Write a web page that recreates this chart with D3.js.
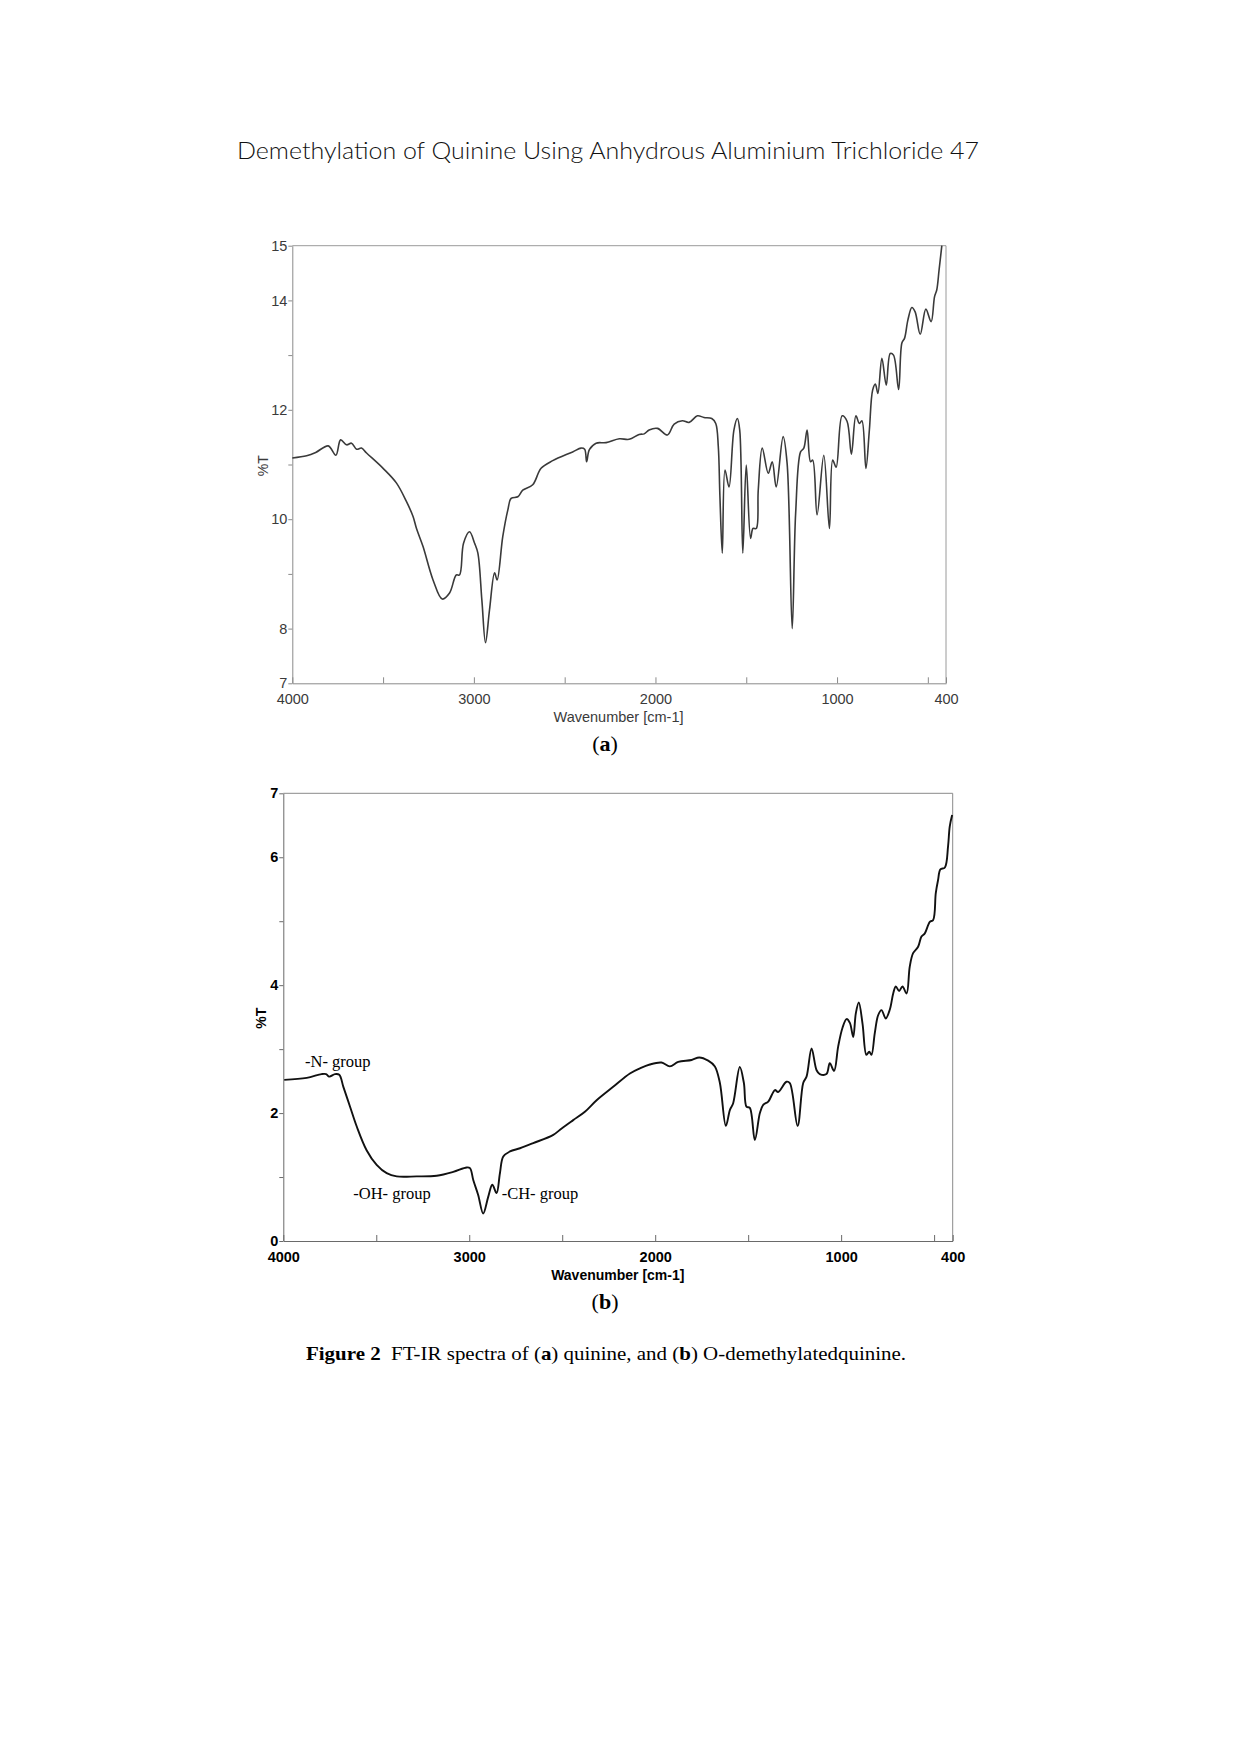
<!DOCTYPE html>
<html>
<head>
<meta charset="utf-8">
<script src="https://cdn.jsdelivr.net/npm/d3@7"></script>
<style>
  html, body { margin: 0; padding: 0; background: #fff; }
  svg { display: block; }
  text { white-space: pre; }
</style>
</head>
<body>
<svg id="page" width="1240" height="1754"></svg>
<script>
// ---------------- DATA ----------------
const headerText = "Demethylation of Quinine Using Anhydrous Aluminium Trichloride 47";

// Spectrum (a): quinine
const wavenumberA = [4000,3921,3871,3802,3760,3734,3701,3674,3646,3619,3591,3500,3426,3371,3335,3316,3280,3225,3174,3134,3097,3079,3057,3024,2996,2978,2956,2936,2914,2886,2872,2841,2813,2795,2758,2731,2676,2630,2566,2456,2410,2390,2379,2364,2327,2272,2199,2145,2090,2062,2035,1989,1934,1897,1852,1815,1769,1733,1690,1668,1654,1645,1632,1617,1595,1568,1549,1536,1519,1500,1476,1463,1445,1434,1412,1379,1357,1335,1297,1275,1247,1228,1201,1183,1165,1146,1134,1110,1073,1042,1024,1005,972,945,921,896,877,863,841,822,804,789,775,753,729,707,689,661,643,628,610,588,570,542,511,482,463,451,438,423];
const transmittanceA = [11.12,11.16,11.22,11.34,11.17,11.45,11.36,11.39,11.28,11.30,11.21,10.93,10.66,10.32,10.05,9.83,9.50,8.89,8.54,8.65,8.98,8.98,9.56,9.77,9.56,9.38,8.52,7.74,8.34,9.02,8.89,9.68,10.17,10.38,10.41,10.53,10.63,10.93,11.07,11.23,11.30,11.28,11.05,11.27,11.39,11.40,11.47,11.46,11.55,11.56,11.63,11.66,11.54,11.74,11.80,11.77,11.89,11.86,11.84,11.75,11.33,10.41,9.38,10.90,10.59,11.63,11.84,11.63,9.38,10.99,9.65,9.83,9.83,10.53,11.30,10.84,11.05,10.59,11.51,11.02,8.00,10.11,11.23,11.30,11.63,11.05,11.08,10.08,11.17,9.83,11.08,10.95,11.89,11.79,11.19,11.89,11.75,11.80,10.93,11.63,12.36,12.47,12.30,12.94,12.45,13.03,13.00,12.37,13.22,13.31,13.64,13.87,13.79,13.38,13.84,13.61,14.07,14.19,14.56,15.0];

// Spectrum (b): O-demethylated quinine
const wavenumberB = [3995,3874,3794,3770,3753,3722,3699,3677,3641,3605,3552,3498,3444,3390,3283,3175,3086,3014,2996,2978,2952,2925,2898,2876,2853,2835,2817,2781,2727,2656,2548,2503,2441,2378,2315,2226,2136,2082,2029,1966,1921,1876,1804,1763,1715,1679,1652,1620,1598,1581,1545,1523,1509,1491,1464,1437,1419,1392,1356,1339,1294,1276,1234,1204,1186,1159,1132,1115,1079,1061,1038,1016,993,971,953,935,921,905,885,864,849,837,819,801,783,760,738,720,706,688,670,648,631,613,586,568,550,523,505,491,479,466,442,425,416,403];
const transmittanceB = [2.52,2.55,2.61,2.61,2.57,2.61,2.60,2.41,2.10,1.79,1.42,1.19,1.06,1.01,1.01,1.02,1.08,1.15,1.14,0.95,0.72,0.43,0.69,0.88,0.75,1.06,1.32,1.40,1.45,1.53,1.66,1.76,1.89,2.02,2.20,2.41,2.62,2.70,2.76,2.79,2.73,2.80,2.83,2.87,2.82,2.73,2.47,1.80,2.05,2.15,2.72,2.47,2.10,2.08,1.58,2.00,2.13,2.18,2.36,2.33,2.49,2.47,1.80,2.47,2.57,3.01,2.67,2.61,2.61,2.78,2.66,3.04,3.33,3.47,3.41,3.19,3.56,3.73,3.40,2.91,2.96,2.91,3.25,3.53,3.61,3.48,3.62,3.87,3.98,3.91,3.98,3.87,4.29,4.50,4.60,4.76,4.81,4.99,5.02,5.44,5.64,5.81,5.84,6.17,6.48,6.66];

// Axis ticks
const xTicks = [4000,3500,3000,2500,2000,1500,1000,500,400];
const xTickLabels = ["4000","","3000","","2000","","1000","","400"];
const yTicksA = [7,8,9,10,11,12,13,14,15];
const yTickLabelsA = ["7","8","","10","","12","","14","15"];
const yTicksB = [0,1,2,3,4,5,6,7];
const yTickLabelsB = ["0","","2","","4","","6","7"];

// Annotations for (b)
const annotLabels = ["-N- group","-OH- group","-CH- group"];
const annotWavenumbers = [3880, 3625, 2855];
const annotValues = [2.7, 0.0, 0.0];

const xLabel = "Wavenumber [cm-1]";
const yLabel = "%T";

// ---------------- DRAW ----------------
const svg = d3.select("#page");

svg.append("text")
  .attr("x", 237).attr("y", 159)
  .attr("textLength", 742).attr("lengthAdjust", "spacingAndGlyphs")
  .style("font-family", "Lato, 'Open Sans', 'DejaVu Sans', sans-serif")
  .style("font-weight", 300)
  .style("font-size", "23px")
  .attr("fill", "#111")
  .text(headerText);

function drawPanel(cfg) {
  const g = svg.append("g");
  const x = d3.scaleLinear().domain([4000, 400]).range([cfg.left, cfg.right]);
  const y = d3.scaleLinear().domain(cfg.yDomain).range([cfg.bottom, cfg.top]);

  // frame (top/right)
  g.append("line").attr("x1", cfg.left).attr("x2", cfg.right).attr("y1", cfg.top).attr("y2", cfg.top)
    .attr("stroke", cfg.frameColor).attr("stroke-width", 1);
  g.append("line").attr("x1", cfg.right).attr("x2", cfg.right).attr("y1", cfg.top).attr("y2", cfg.bottom)
    .attr("stroke", cfg.frameColor).attr("stroke-width", 1);

  const xAxis = d3.axisBottom(x).tickValues(xTicks)
    .tickFormat((d, i) => xTickLabels[i]).tickSize(-6).tickSizeOuter(0).tickPadding(cfg.xPad);
  const gx = g.append("g").attr("transform", `translate(0,${cfg.bottom})`).call(xAxis);

  const yAxis = d3.axisLeft(y).tickValues(cfg.yTicks)
    .tickFormat((d, i) => cfg.yTickLabels[i]).tickSize(4).tickSizeOuter(0).tickPadding(1);
  const gy = g.append("g").attr("transform", `translate(${cfg.left},0)`).call(yAxis);

  [gx, gy].forEach(a => {
    a.select(".domain").attr("stroke", cfg.axisColor).attr("stroke-width", 1);
    a.selectAll(".tick line").attr("stroke", cfg.axisColor);
    a.selectAll(".tick text")
      .attr("fill", cfg.textColor)
      .style("font-family", "'Liberation Sans', Arial, sans-serif")
      .style("font-size", "14.5px")
      .style("font-weight", cfg.bold ? 700 : 400);
  });

  g.append("text")
    .attr("x", cfg.xLabelX).attr("y", cfg.xLabelY)
    .attr("text-anchor", "middle")
    .attr("fill", cfg.textColor)
    .style("font-family", "'Liberation Sans', Arial, sans-serif")
    .style("font-size", cfg.bold ? "14px" : "14.5px")
    .style("font-weight", cfg.bold ? 700 : 400)
    .text(xLabel);

  g.append("text")
    .attr("transform", `translate(${cfg.yLabelX},${cfg.yLabelY}) rotate(-90)`)
    .attr("text-anchor", "middle")
    .attr("dy", "0.35em")
    .attr("fill", cfg.textColor)
    .style("font-family", "'Liberation Sans', Arial, sans-serif")
    .style("font-size", "14px")
    .style("font-weight", cfg.bold ? 700 : 400)
    .text(yLabel);

  const pts = cfg.wn.map((w, i) => [w, cfg.tr[i]]);
  const line = d3.line().x(d => x(d[0])).y(d => y(d[1])).curve(d3.curveCatmullRom.alpha(0.5));
  g.append("path").datum(pts)
    .attr("d", line)
    .attr("fill", "none")
    .attr("stroke", cfg.lineColor)
    .attr("stroke-width", cfg.lineWidth)
    .attr("stroke-linejoin", "round");

  // panel letter
  const t = g.append("text")
    .attr("x", cfg.letterX).attr("y", cfg.letterY)
    .attr("text-anchor", "middle")
    .style("font-family", "'Liberation Serif', 'Times New Roman', serif")
    .style("font-size", "22px")
    .attr("fill", "#000");
  t.append("tspan").text("(");
  t.append("tspan").style("font-weight", 700).text(cfg.letter);
  t.append("tspan").text(")");

  return {x, y, g};
}

drawPanel({
  left: 292.3, right: 946, top: 245.7, bottom: 683.3,
  yDomain: [7, 15], yTicks: yTicksA, yTickLabels: yTickLabelsA,
  xPad: 10.4, axisColor: "#8a8a8a", frameColor: "#9a9a9a", textColor: "#3a3a3a", bold: false,
  xLabelX: 618.5, xLabelY: 721.7, yLabelX: 262.8, yLabelY: 465.8,
  wn: wavenumberA, tr: transmittanceA, lineColor: "#3a3a3a", lineWidth: 1.6,
  letter: "a", letterX: 605, letterY: 751
});

const pb = drawPanel({
  left: 283.3, right: 952.7, top: 793.3, bottom: 1241,
  yDomain: [0, 7], yTicks: yTicksB, yTickLabels: yTickLabelsB,
  xPad: 10.7, axisColor: "#6a6a6a", frameColor: "#8a8a8a", textColor: "#000", bold: true,
  xLabelX: 617.8, xLabelY: 1280, yLabelX: 260.8, yLabelY: 1018.3,
  wn: wavenumberB, tr: transmittanceB, lineColor: "#111", lineWidth: 1.9,
  letter: "b", letterX: 605, letterY: 1309
});

// annotations in (b)
const annotX = [305, 353.3, 501.7];
const annotY = [1067, 1199.3, 1199.3];
annotLabels.forEach((lab, i) => {
  pb.g.append("text")
    .attr("x", annotX[i]).attr("y", annotY[i])
    .style("font-family", "'Liberation Serif', 'Times New Roman', serif")
    .style("font-size", "16.5px")
    .attr("fill", "#000")
    .text(lab);
});

// caption
const cap = svg.append("text")
  .attr("x", 306).attr("y", 1360)
  .attr("textLength", 600).attr("lengthAdjust", "spacingAndGlyphs")
  .style("font-family", "'Liberation Serif', 'Times New Roman', serif")
  .style("font-size", "19px")
  .attr("fill", "#000");
cap.append("tspan").style("font-weight", 700).text("Figure 2");
cap.append("tspan").text("  FT-IR spectra of (");
cap.append("tspan").style("font-weight", 700).text("a");
cap.append("tspan").text(") quinine, and (");
cap.append("tspan").style("font-weight", 700).text("b");
cap.append("tspan").text(") O-demethylatedquinine.");
</script>
</body>
</html>
